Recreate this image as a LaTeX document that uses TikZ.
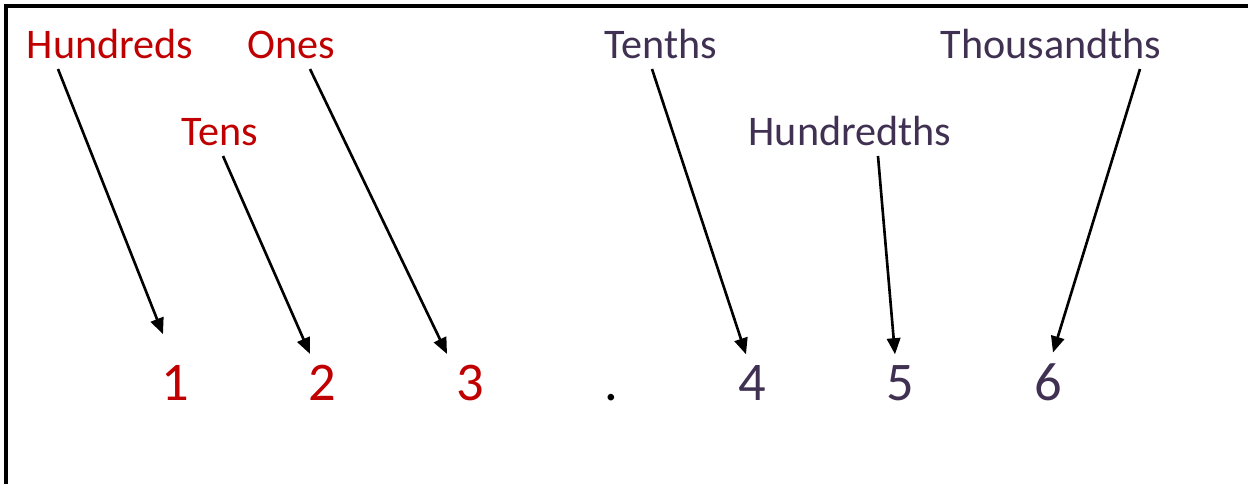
\documentclass[tikz,border=0pt]{standalone}
\usepackage{fontspec}
\setmainfont{Carlito}
\usetikzlibrary{arrows.meta,calc}
\definecolor{intred}{HTML}{C00000}
\definecolor{decpurple}{HTML}{403152}

\begin{document}
\begin{tikzpicture}[x=0.1mm, y=-0.1mm, >={Triangle[length=4.6pt,width=3.8pt]},
    placename/.style={font=\fontsize{12}{14}\selectfont, inner sep=0pt, anchor=base},
    intname/.style={placename, text=intred},
    decname/.style={placename, text=decpurple},
    digit/.style={font=\fontsize{15.5}{18}\selectfont, inner sep=0pt, anchor=base},
    pointer/.style={->, line width=0.75pt}]
    \useasboundingbox (0,0) rectangle (1248,484);
    \draw[line width=1pt] (6,484) -- (6,6) -- (1248,6);

    % place names
    \node[intname] (hund) at (110,58) {Hundreds};
    \node[intname] (ones) at (291,58) {Ones};
    \node[intname] (tens) at (220,145) {Tens};
    \node[decname] (tenths) at (661,58) {Tenths};
    \node[decname] (hundths) at (850,145) {Hundredths};
    \node[decname] (thous) at (1051,58) {Thousandths};

    % the number
    \node[digit, text=intred] (d1) at (175.5,400) {1};
    \node[digit, text=intred] (d2) at (322.5,400) {2};
    \node[digit, text=intred] (d3) at (470,400) {3};
    \node[digit] (pt) at (611,400) {.};
    \node[digit, text=decpurple] (d4) at (752,400) {4};
    \node[digit, text=decpurple] (d5) at (900,400) {5};
    \node[digit, text=decpurple] (d6) at (1048,400) {6};

    \draw[pointer] ($(hund.south)+(-52,10)$) -- ($(d1.north)+(-12.5,-30)$);
    \draw[pointer] ($(tens.south)+(3,10)$) -- ($(d2.north)+(-12.5,-10)$);
    \draw[pointer] ($(ones.south)+(19,10)$) -- ($(d3.north)+(-23,-10)$);
    \draw[pointer] ($(tenths.south)+(-9,10)$) -- ($(d4.north)+(-6,-10)$);
    \draw[pointer] ($(hundths.south)+(28,10)$) -- ($(d5.north)+(-5,-10)$);
    \draw[pointer] ($(thous.south)+(89,10)$) -- ($(d6.north)+(5,-10)$);
  \end{tikzpicture}
\end{document}
